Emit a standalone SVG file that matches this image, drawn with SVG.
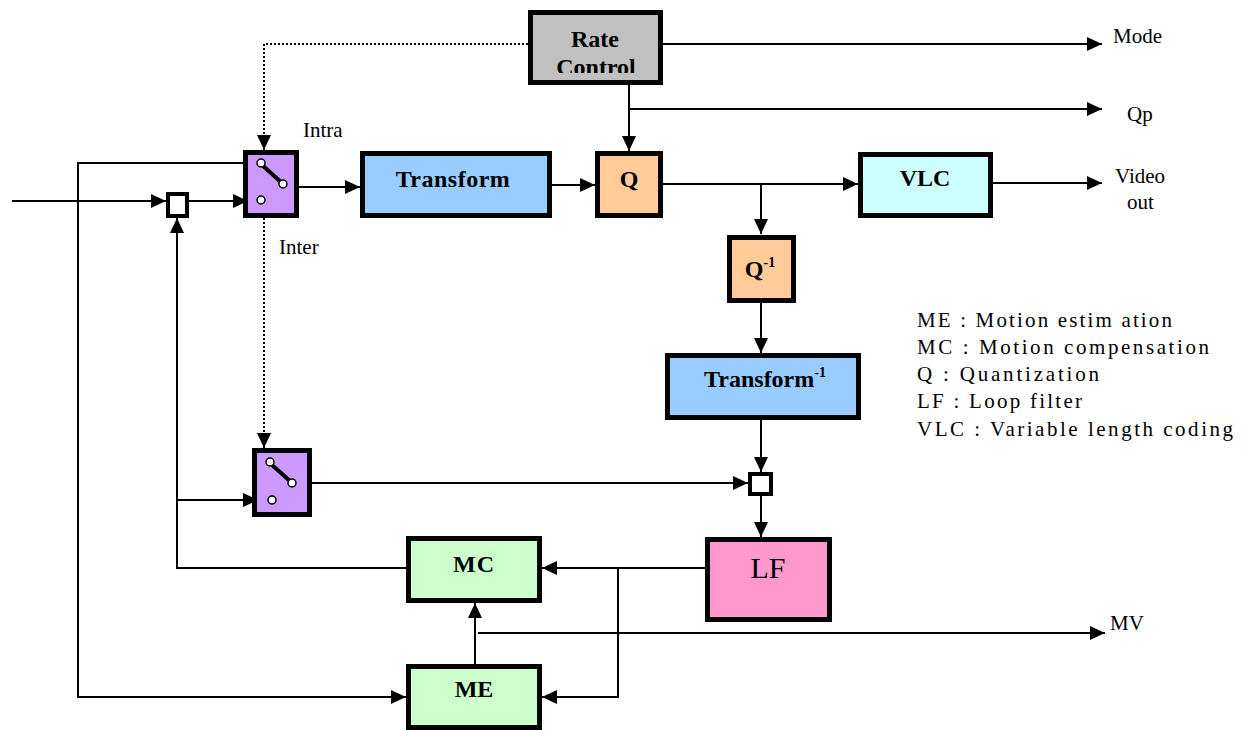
<svg xmlns="http://www.w3.org/2000/svg" width="1243" height="730" viewBox="0 0 1243 730">
<style>
.box{stroke:#000;stroke-width:5}
.lbl{font-family:"Liberation Serif","Times New Roman",serif;font-weight:bold;font-size:24px;text-anchor:middle;fill:#000}
.big{font-family:"Liberation Serif","Times New Roman",serif;font-size:30px;text-anchor:middle;fill:#000}
.txt{font-family:"Liberation Serif","Times New Roman",serif;font-size:21px;fill:#000}
.leg{font-family:"Liberation Serif","Times New Roman",serif;font-size:21px;fill:#000}
.ln{fill:none;stroke:#000;stroke-width:2}
.dot{fill:none;stroke:#000;stroke-width:2;stroke-dasharray:2 2}
.sq{fill:#fff;stroke:#000;stroke-width:4}
.sw{fill:#cc99ff;stroke:#000;stroke-width:5}
.ct{fill:#fff;stroke:#000;stroke-width:1.5}
.lev{stroke:#000;stroke-width:4}
</style>
<defs>
<marker id="ah" markerUnits="userSpaceOnUse" markerWidth="16" markerHeight="16" refX="15" refY="7" orient="auto">
<path d="M0,0 L15,7 L0,14 z" fill="#000"/>
</marker>
<clipPath id="rcclip"><rect x="528" y="10" width="135" height="63"/></clipPath>
</defs>
<rect width="1243" height="730" fill="#fff"/>

<g id="connectors">
<path class="ln" d="M663,44 H1102" marker-end="url(#ah)"/>
<path class="ln" d="M629,109 H1102" marker-end="url(#ah)"/>
<path class="ln" d="M629,82 V151" marker-end="url(#ah)"/>
<path class="dot" d="M528,44 H264 V150" marker-end="url(#ah)"/>
<path class="dot" d="M264,218 V448" marker-end="url(#ah)"/>
<path class="ln" d="M12,201 H166" marker-end="url(#ah)"/>
<path class="ln" d="M188,201 H248" marker-end="url(#ah)"/>
<path class="ln" d="M299,187 H360" marker-end="url(#ah)"/>
<path class="ln" d="M552,185 H595" marker-end="url(#ah)"/>
<path class="ln" d="M663,184 H858" marker-end="url(#ah)"/>
<path class="ln" d="M761,184 V234" marker-end="url(#ah)"/>
<path class="ln" d="M993,183 H1102" marker-end="url(#ah)"/>
<path class="ln" d="M761,303 V353" marker-end="url(#ah)"/>
<path class="ln" d="M761,420 V472" marker-end="url(#ah)"/>
<path class="ln" d="M761,495 V537" marker-end="url(#ah)"/>
<path class="ln" d="M312,483 H748" marker-end="url(#ah)"/>
<path class="ln" d="M705,568 H542" marker-end="url(#ah)"/>
<path class="ln" d="M618,568 V697 H542" marker-end="url(#ah)"/>
<path class="ln" d="M406,568 H177 V218" marker-end="url(#ah)"/>
<path class="ln" d="M177,500 H258" marker-end="url(#ah)"/>
<path class="ln" d="M258,163 H78 V697 H406" marker-end="url(#ah)"/>
<path class="ln" d="M475,664 V603" marker-end="url(#ah)"/>
<path class="ln" d="M478,633 H1105" marker-end="url(#ah)"/>
</g>

<g id="rate-control">
<rect x="530.5" y="12.5" width="130" height="70" fill="#c0c0c0"/>
<text class="lbl" x="595" y="47">Rate</text>
<text class="lbl" x="596" y="75" clip-path="url(#rcclip)">Control</text>
<rect class="box" x="530.5" y="12.5" width="130" height="70" fill="none"/>
</g>

<g id="switch1">
<rect class="sw" x="245.5" y="152.5" width="51" height="63"/>
<line class="lev" x1="262" y1="165" x2="282" y2="183"/>
<circle class="ct" cx="261" cy="163" r="4"/>
<circle class="ct" cx="283" cy="184" r="4"/>
<circle class="ct" cx="261" cy="200" r="4"/>
</g>

<g id="sum1"><rect class="sq" x="168" y="194" width="19" height="22"/></g>

<g id="transform">
<rect class="box" x="362.5" y="153.5" width="187" height="62" fill="#99ccff"/>
<text class="lbl" x="453" y="187" letter-spacing="0.5">Transform</text>
</g>

<g id="q">
<rect class="box" x="597.5" y="153.5" width="63" height="62" fill="#ffcc99"/>
<text class="lbl" x="629" y="187">Q</text>
</g>

<g id="vlc">
<rect class="box" x="860.5" y="154.5" width="130" height="61" fill="#ccffff"/>
<text class="lbl" x="925" y="186">VLC</text>
</g>

<g id="qinv">
<rect class="box" x="729.5" y="237.5" width="64" height="63" fill="#ffcc99"/>
<text class="lbl" x="760" y="277">Q<tspan font-size="14" dy="-10">-1</tspan></text>
</g>

<g id="tinv">
<rect class="box" x="667.5" y="355.5" width="191" height="62" fill="#99ccff"/>
<text class="lbl" x="765" y="387">Transform<tspan font-size="14" dy="-10">-1</tspan></text>
</g>

<g id="switch2">
<rect class="sw" x="254.5" y="450.5" width="55" height="64"/>
<line class="lev" x1="272" y1="465" x2="290" y2="481"/>
<circle class="ct" cx="270" cy="462" r="4"/>
<circle class="ct" cx="292" cy="483" r="4"/>
<circle class="ct" cx="272" cy="500" r="4"/>
</g>

<g id="sum2"><rect class="sq" x="750" y="474" width="21" height="20"/></g>

<g id="lf">
<rect class="box" x="707.5" y="539.5" width="122" height="80" fill="#ff99cc"/>
<text class="big" x="768" y="578">LF</text>
</g>

<g id="mc">
<rect class="box" x="408.5" y="538.5" width="131" height="62" fill="#ccffcc"/>
<text class="lbl" x="474" y="572" letter-spacing="1">MC</text>
</g>

<g id="me">
<rect class="box" x="408.5" y="666.5" width="131" height="61" fill="#ccffcc"/>
<text class="lbl" x="474" y="697">ME</text>
</g>

<g id="labels">
<text class="txt" x="1113" y="43">Mode</text>
<text class="txt" x="1127" y="121">Qp</text>
<text class="txt" x="303" y="137">Intra</text>
<text class="txt" x="279" y="254">Inter</text>
<text class="txt" x="1115" y="183">Video</text>
<text class="txt" x="1127" y="209">out</text>
<text class="txt" x="1110" y="630">MV</text>
</g>

<g id="legend">
<text class="leg" x="917" y="327" textLength="255" lengthAdjust="spacing">ME : Motion estim ation</text>
<text class="leg" x="917" y="354" textLength="292" lengthAdjust="spacing">MC : Motion compensation</text>
<text class="leg" x="917" y="381" textLength="182" lengthAdjust="spacing">Q : Quantization</text>
<text class="leg" x="917" y="408" textLength="165" lengthAdjust="spacing">LF : Loop filter</text>
<text class="leg" x="917" y="436" textLength="316" lengthAdjust="spacing">VLC : Variable length coding</text>
</g>
</svg>
